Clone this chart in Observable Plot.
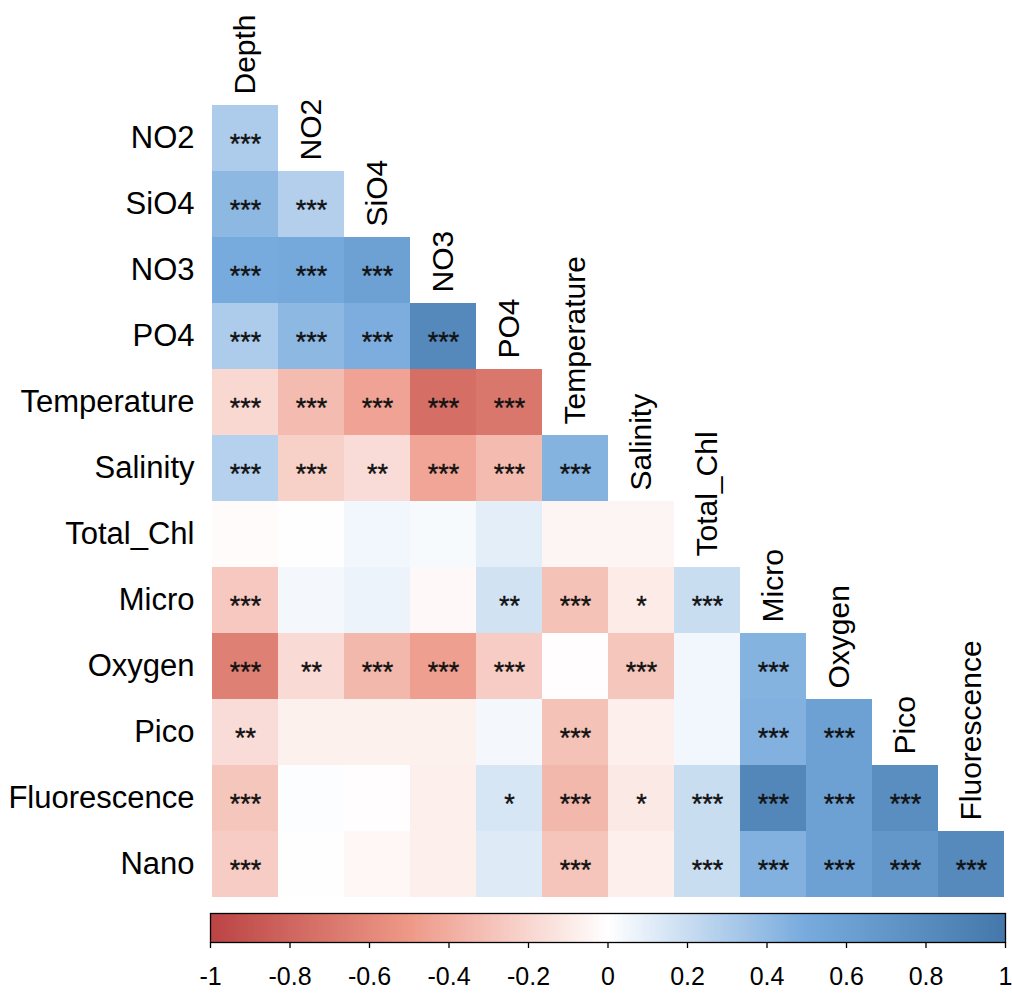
<!DOCTYPE html>
<html>
<head>
<meta charset="utf-8">
<script src="https://cdn.jsdelivr.net/npm/d3@7"></script>
<script src="https://cdn.jsdelivr.net/npm/@observablehq/plot@0.6"></script>
<style>
  body { margin: 0; background: #fff; }
  #chart svg { display: block; }
</style>
</head>
<body>
<div id="chart"></div>
<script>
// Variables of the correlation matrix (lower triangle: rows = variables[1..], columns = variables[0..11])
const variables = ["Depth", "NO2", "SiO4", "NO3", "PO4", "Temperature", "Salinity",
                   "Total_Chl", "Micro", "Oxygen", "Pico", "Fluorescence", "Nano"];
const rowVars = variables.slice(1);
const colVars = variables.slice(0, 12);

// Pearson correlation coefficients, one row per variable (lower triangle)
const corr = [
  [0.30],
  [0.42, 0.28],
  [0.50, 0.52, 0.60],
  [0.30, 0.42, 0.48, 0.83],
  [-0.19, -0.33, -0.45, -0.75, -0.70],
  [0.27, -0.23, -0.17, -0.44, -0.33, 0.45],
  [-0.02, 0.005, 0.05, 0.03, 0.10, -0.05, -0.05],
  [-0.27, 0.04, 0.07, -0.03, 0.17, -0.30, -0.10, 0.20],
  [-0.65, -0.18, -0.35, -0.47, -0.25, -0.01, -0.28, 0.05, 0.45],
  [-0.17, -0.07, -0.07, -0.07, 0.04, -0.30, -0.08, 0.05, 0.46, 0.60],
  [-0.28, 0.01, -0.01, -0.08, 0.15, -0.35, -0.11, 0.20, 0.85, 0.60, 0.78],
  [-0.25, -0.005, -0.04, -0.08, 0.12, -0.29, -0.08, 0.20, 0.46, 0.60, 0.70, 0.82]
];

// Significance levels (* p<0.05, ** p<0.01, *** p<0.001)
const signif = [
  ["***"],
  ["***", "***"],
  ["***", "***", "***"],
  ["***", "***", "***", "***"],
  ["***", "***", "***", "***", "***"],
  ["***", "***", "**", "***", "***", "***"],
  ["", "", "", "", "", "", ""],
  ["***", "", "", "", "**", "***", "*", "***"],
  ["***", "**", "***", "***", "***", "", "***", "", "***"],
  ["**", "", "", "", "", "***", "", "", "***", "***"],
  ["***", "", "", "", "*", "***", "*", "***", "***", "***", "***"],
  ["***", "", "", "", "", "***", "", "***", "***", "***", "***", "***"]
];

// Colour bar tick values
const legendTicks = [-1, -0.8, -0.6, -0.4, -0.2, 0, 0.2, 0.4, 0.6, 0.8, 1];

const cells = rowVars.flatMap((row, i) =>
  corr[i].map((r, j) => ({row, col: colVars[j], r, sig: signif[i][j]}))
);

const font = "Arial, 'Liberation Sans', sans-serif";
const colorScale = {
  type: "linear",
  domain: [-1, -0.5, 0, 0.5, 1],
  range: ["#BB4444", "#EE9988", "#FFFFFF", "#77AADD", "#4477AA"],
  interpolate: "rgb"
};

const matrix = Plot.plot({
  width: 1012,
  height: 903,
  marginTop: 103,
  marginBottom: 4,
  marginLeft: 210,
  marginRight: 7,
  style: {fontFamily: font, background: "white", color: "black"},
  x: {type: "band", domain: colVars, padding: 0, axis: null},
  y: {type: "band", domain: rowVars, padding: 0, axis: null},
  color: colorScale,
  marks: [
    Plot.cell(cells, {x: "col", y: "row", fill: "r", shapeRendering: "crispEdges"}),
    Plot.text(cells, {x: "col", y: "row", text: "sig", fontSize: 27, dy: 6, fill: "#111", stroke: "#111", strokeWidth: 0.4}),
    // row labels
    Plot.text(rowVars, {y: d => d, frameAnchor: "left", textAnchor: "end", dx: -16, fontSize: 31, fill: "black"}),
    // column labels, placed above the diagonal cell of each column
    Plot.text(colVars, {
      x: d => d,
      y: (d, i) => rowVars[i],
      rotate: -90,
      textAnchor: "start",
      dy: -44,
      fontSize: 30,
      fill: "black"
    })
  ]
});

const colorbar = Plot.plot({
  width: 1012,
  height: 90,
  marginTop: 10,
  marginBottom: 51,
  marginLeft: 210,
  marginRight: 7,
  style: {fontFamily: font, background: "white", color: "black"},
  x: {domain: [-1, 1]},
  y: {domain: [0, 1], axis: null},
  color: colorScale,
  marks: [
    Plot.raster({x1: -1, x2: 1, y1: 0, y2: 1, width: 500, height: 1, fill: (x, y) => x, imageRendering: "auto"}),
    Plot.frame({stroke: "black", strokeWidth: 1.3}),
    Plot.axisX({
      ticks: legendTicks,
      tickFormat: d => String(d),
      tickSize: 6,
      tickPadding: 19,
      label: null,
      stroke: "black",
      strokeWidth: 1.3
    })
  ]
});

// larger tick labels under the colour bar
d3.select(colorbar).selectAll("text").attr("font-size", 25).style("font-size", "25px");

const chart = document.getElementById("chart");
chart.append(matrix, colorbar);
</script>
</body>
</html>
